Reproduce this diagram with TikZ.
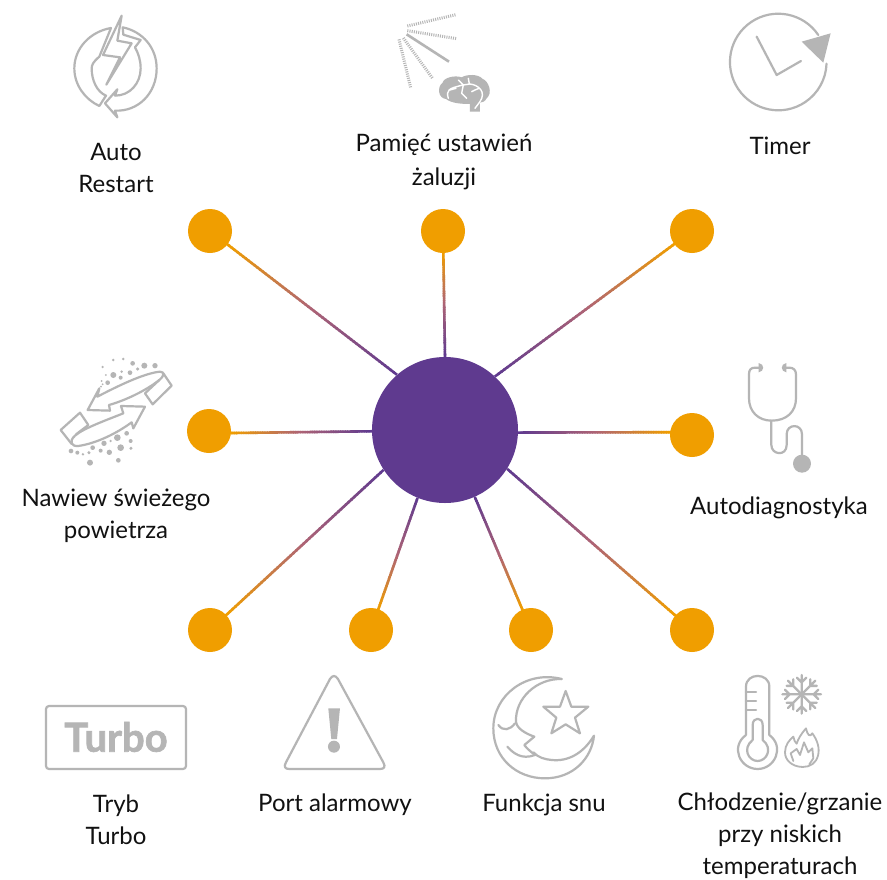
\documentclass[tikz,border=0pt]{standalone}
\usepackage{fontspec}
\setmainfont{Lato}
\newfontfamily\turbof[BoldFeatures={FakeBold=1.6}]{Lato}
\usetikzlibrary{calc}
\definecolor{hubc}{HTML}{5F3A8F}
\definecolor{midc}{HTML}{AE6475}
\definecolor{leafc}{HTML}{F09E00}
\definecolor{icon}{HTML}{B5B5B5}
\definecolor{txt}{HTML}{111111}
\tikzset{
  hubnode/.style={circle,fill=hubc,minimum size=146pt,inner sep=0pt},
  leafnode/.style={circle,fill=leafc,minimum size=44pt,inner sep=0pt},
  lab/.style={align=center,text=txt,inner sep=0pt,font=\fontsize{24}{32}\selectfont},
  ic/.style={draw=icon,line width=2.2pt,line join=round,line cap=round},
  icf/.style={fill=icon,draw=none},
  hatch/.style={draw=icon,line width=3pt,dash pattern=on 1pt off 1.2pt},
  zoomA/.style={x=0.3333pt,y=-0.3333pt},
}
\newcommand{\gradlink}[3]{%
  \coordinate (s) at (hub.#2);
  \coordinate (e) at ($(#1)!21pt!(s)+(0,#3)$);
  \foreach \i in {0,...,59}{%
    \pgfmathsetmacro{\ta}{\i/60}%
    \pgfmathsetmacro{\tb}{min(1,(\i+1.4)/60)}%
    \pgfmathtruncatemacro{\half}{\i<30 ? 1 : 0}%
    \pgfmathsetmacro{\mixv}{\half==1 ? 100*(1-\i/30) : 100*(1-(\i-30)/29)}%
    \ifnum\half=1 \colorlet{segc}{hubc!\mixv!midc}\else\colorlet{segc}{midc!\mixv!leafc}\fi
    \draw[line width=2.6pt,color=segc] ($(s)!\ta!(e)$) -- ($(s)!\tb!(e)$);
  }%
}
\begin{document}
\begin{tikzpicture}[x=1pt,y=-1pt]
\useasboundingbox[fill=white] (0,0) rectangle (887,879);
% nodes
\node[hubnode] (hub) at (445,430) {};
\node[leafnode] (l1) at (210,231) {};
\node[leafnode] (l2) at (443,231) {};
\node[leafnode] (l3) at (692,231) {};
\node[leafnode] (l4) at (209,431) {};
\node[leafnode] (l5) at (692,435) {};
\node[leafnode] (l6) at (210,630) {};
\node[leafnode] (l7) at (371,630) {};
\node[leafnode] (l8) at (531,630) {};
\node[leafnode] (l9) at (692,630) {};
\foreach \n/\a/\o in {l1/131/0,l2/90/0,l3/47/0,l4/181.5/2,l5/-2.5/-2.5,l6/213/0,l7/248/0,l8/294/0,l9/328.5/0}{\gradlink{\n}{\a}{\o}}
% labels
\node[lab] (t1) at (116,168) {Auto\\Restart};
\node[lab] (t2) at (444,162) {Pamięć ustawień\\[2pt]żaluzji};
\node[lab] (t3) at (780,146) {Timer};
\node[lab] (t4) at (116,516) {Nawiew świeżego\\powietrza};
\node[lab] (t5) at (779,508) {Autodiagnostyka};
\node[lab] (t6) at (116,820) {Tryb\\Turbo};
\node[lab] (t7) at (335,805) {Port alarmowy};
\node[lab] (t8) at (544,805) {Funkcja snu};
\node[lab] (t9) at (780,835.5) {Chłodzenie/grzanie\\przy niskich\\temperaturach};
% Auto restart icon
\begin{scope}[shift={(40,0)},zoomA]
\draw[ic] (245,47) -- (189,165) -- (240,172) -- (199,254) -- (275,130) -- (232,122) -- cycle;
\draw[ic] (213,84) .. controls (150,95) and (103,145) .. (103,205) .. controls (103,255) and (135,298) .. (178,318) -- (198,287) .. controls (170,275) and (155,240) .. (155,205) .. controls (155,195) and (160,185) .. (178,170) -- cycle;
\draw[ic] (248,82) .. controls (310,95) and (350,145) .. (350,205) .. controls (350,280) and (295,335) .. (225,332) -- (232,352) -- (195,310) -- (232,268) -- (225,287) .. controls (270,287) and (302,250) .. (302,205) .. controls (302,180) and (295,160) .. (285,142) -- (302,120) -- (250,104) -- cycle;
\end{scope}
% Memory icon
\begin{scope}[shift={(380,0)},zoomA]
\draw[hatch] (82,78) -- (228,44);
\draw[hatch] (82,92) -- (230,116);
\draw[draw=icon,line width=2.6pt] (80,103) -- (207,185);
\draw[hatch] (70,114) -- (157,234);
\draw[hatch] (57,118) -- (92,263);
\path[icf] (270,335) -- (270,312) .. controls (245,312) and (215,310) .. (198,297) .. controls (175,295) and (170,262) .. (188,248) .. controls (192,232) and (225,225) .. (245,232) .. controls (262,222) and (295,222) .. (307,236) .. controls (328,245) and (338,280) .. (320,295) .. controls (315,305) and (305,308) .. (300,308) -- (300,335) -- cycle;
\draw[white,line width=1.4pt,line cap=round,line join=round] (205,295) .. controls (198,270) and (205,265) .. (250,255) -- (270,252) .. controls (295,255) and (320,275) .. (300,305) -- (285,325)
 (265,235) -- (268,252) (235,240) -- (250,255) (250,255) -- (245,280) -- (260,295) (275,275) -- (285,270) -- (297,265) (228,265) -- (210,270);
\end{scope}
% Timer icon
\draw[ic] (818.3,35) arc[start angle=-34,end angle=-358,radius=48.3];
\begin{scope}[shift={(720,0)},zoomA]
\path[icf] (245,125) -- (332,100) -- (310,188) -- cycle;
\draw[ic] (110,110) -- (170,225) -- (243,183);
\end{scope}
% Fresh air icon
\begin{scope}[shift={(40,345)},zoomA]
\draw[ic] (143,195) -- (178,130) -- (172,155) .. controls (230,125) and (310,85) .. (360,80) .. controls (375,80) and (372,95) .. (358,105) .. controls (320,135) and (260,165) .. (207,180) -- (210,197) -- cycle;
\draw[ic] (370,85) -- (395,122) -- (338,178) -- (315,145) -- (358,105);
\draw[ic] (315,185) -- (243,183) -- (250,205) .. controls (200,225) and (130,250) .. (105,272) .. controls (85,290) and (95,305) .. (115,303) .. controls (170,295) and (230,265) .. (275,232) -- (280,250) -- cycle;
\draw[ic] (95,297) -- (62,255) -- (120,203) -- (145,240) -- (108,268);
\foreach \x/\y/\r in {220/45/4,250/42/4,278/55/7,313/62/9,345/62/8,188/66/4,293/72/5,270/83/7,245/80/4,220/90/9,198/90/3,242/98/6,203/113/7,185/108/3,188/118/3,183/125/3,
 260/265/7,232/278/10,272/288/6,212/288/4,192/295/8,158/308/7,242/308/10,273/310/5,182/317/6,208/322/8,147/323/5,93/318/7,112/323/6,129/328/4,150/353/9,235/346/7}
  {\path[fill=icon] (\x,\y) circle[radius=\r];}
\end{scope}
% Stethoscope
\begin{scope}[shift={(730,355)},zoomA]
\path[icf] (216,326) circle[radius=27];
\draw[ic] (92,38) -- (75,38) .. controls (62,38) and (57,45) .. (57,58) -- (57,130) .. controls (57,170) and (85,197) .. (125,197) .. controls (170,197) and (198,170) .. (198,130) -- (198,58) .. controls (198,45) and (190,38) .. (178,38) -- (163,38);
\path[icf] (86,24) .. controls (104,26) and (104,50) .. (86,52) -- cycle;
\path[icf] (169,24) .. controls (151,26) and (151,50) .. (169,52) -- cycle;
\draw[ic] (124,197) -- (124,270) .. controls (124,300) and (170,305) .. (170,270) -- (170,238) .. controls (170,205) and (216,205) .. (216,238) -- (216,300);
\end{scope}
% Turbo
\draw[ic] (49,706) -- (183,706) arc[start angle=-90,end angle=0,radius=3] -- (186,766) arc[start angle=0,end angle=90,radius=3] -- (49,769) arc[start angle=90,end angle=180,radius=3] -- (46,709) arc[start angle=180,end angle=270,radius=3] -- cycle;
\node[inner sep=0pt,text=icon,font=\fontsize{40}{40}\selectfont\turbof\bfseries] (turbo) at (116,737) {Turbo};
% Alert
\begin{scope}[shift={(30,665)},zoomA]
\draw[ic] (900,42) .. controls (908,30) and (916,30) .. (924,42) -- (1060,292) .. controls (1068,306) and (1062,312) .. (1050,312) -- (778,312) .. controls (766,312) and (760,306) .. (768,292) -- cycle;
\path[icf] (895,130) -- (930,130) -- (921,222) -- (904,222) -- cycle;
\path[icf] (912,245) circle[radius=18];
\end{scope}
% Moon
\begin{scope}[shift={(480,665)},zoomA]
\draw[ic] (245,42) .. controls (140,15) and (40,90) .. (40,190) .. controls (40,280) and (110,340) .. (195,340) .. controls (280,340) and (335,280) .. (342,212) .. controls (310,265) and (265,290) .. (215,285) .. controls (195,283) and (175,278) .. (160,262);
\draw[ic] (245,42) .. controls (170,40) and (105,100) .. (108,170) .. controls (110,190) and (135,205) .. (163,215) -- (133,240) .. controls (140,250) and (150,258) .. (165,270);
\draw[ic] (55,180) .. controls (70,200) and (90,195) .. (105,175);
\draw[ic] (82,245) .. controls (100,265) and (125,285) .. (165,270);
\draw[ic] (257,78) -- (274,125) -- (325,125) -- (285,158) -- (300,205) -- (257,178) -- (214,205) -- (229,158) -- (190,125) -- (240,125) -- cycle;
\end{scope}
% Thermometer, snowflake, flame
\begin{scope}[shift={(730,665)},zoomA]
\draw[ic] (48,210) -- (48,65) .. controls (48,22) and (118,22) .. (118,65) -- (118,210) .. controls (165,245) and (135,312) .. (83,312) .. controls (30,312) and (0,245) .. (48,210);
\draw[ic] (68,225) -- (68,180) .. controls (68,155) and (98,155) .. (98,180) -- (98,225) .. controls (130,250) and (110,288) .. (83,288) .. controls (55,288) and (36,250) .. (68,225);
\draw[ic] (48,82) -- (78,82) (48,108) -- (78,108) (48,135) -- (78,135);
\foreach \a in {0,45,...,315}{
  \draw[draw=icon,line width=2.3pt,line cap=round,shift={(215,88)},rotate=\a] (0,0) -- (58,0) (36,0) -- (50,14) (36,0) -- (50,-14);
}
\draw[ic,line width=1.8pt] (218,306) .. controls (185,305) and (165,285) .. (165,262) .. controls (165,240) and (178,225) .. (190,215) .. controls (192,225) and (195,232) .. (200,236) .. controls (205,220) and (215,205) .. (228,190) .. controls (232,210) and (240,218) .. (247,205) .. controls (262,225) and (270,250) .. (264,272) .. controls (258,295) and (240,306) .. (218,306);
\draw[ic,line width=1.8pt] (190,288) -- (182,265) -- (200,252) -- (210,270) -- (222,232) -- (235,262) -- (247,250) -- (250,280) -- (238,298);
\end{scope}
\end{tikzpicture}
\end{document}
